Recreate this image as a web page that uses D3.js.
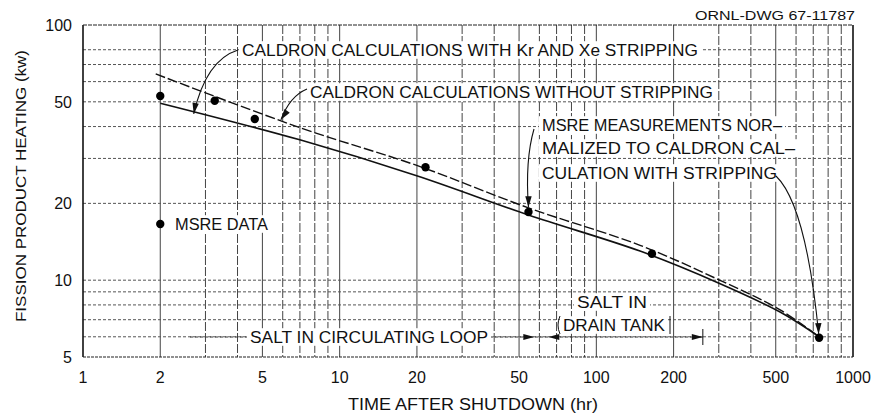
<!DOCTYPE html>
<html>
<head>
<meta charset="utf-8">
<script src="https://cdn.jsdelivr.net/npm/d3@7"></script>
<style>
  body { margin: 0; background: #fff; }
  svg text { font-family: "Liberation Sans", "DejaVu Sans", sans-serif; fill: #111; }
</style>
</head>
<body>
<div id="chart"></div>
<script>
var svgWidth = 879;
var svgHeight = 415;

// data
var timeTicks = [1, 2, 5, 10, 20, 50, 100, 200, 500, 1000];
var heatTicks = [5, 10, 20, 50, 100];
var timeGrid = [2, 3, 4, 5, 6, 7, 8, 9, 10, 20, 30, 40, 50, 60, 70, 80, 90, 100, 200, 300, 400, 500, 600, 700, 800, 900];
var heatGrid = [6, 7, 8, 9, 10, 20, 30, 40, 50, 60, 70, 80];

var msreTime = [2, 3.26, 4.67, 21.6, 54.4, 164.7, 738];
var msreHeat = [52.7, 50.5, 42.8, 27.7, 18.5, 12.7, 5.95];

var stripTime = [2, 7.05, 20.1, 54.4, 148, 296, 520, 738];
var stripHeat = [49.4, 35.4, 25.6, 18.0, 13.0, 9.8, 7.5, 6.0];

var noStripTime = [1.92, 7.05, 20.1, 54.4, 148, 296, 520, 738];
var noStripHeat = [64.3, 39.5, 28.1, 19.2, 13.7, 10.1, 7.65, 6.0];

var svg = d3.select("#chart")
  .append("svg")
  .attr("width", svgWidth)
  .attr("height", svgHeight);

// scales
var x = d3.scaleLog().domain([1, 1000]).range([83, 853]);
var y = d3.scaleLog().domain([5, 100]).range([357, 25]);

// grid
svg.append("g").selectAll("line")
  .data(timeGrid)
  .enter()
  .append("line")
  .attr("x1", d => x(d)).attr("x2", d => x(d))
  .attr("y1", y(100)).attr("y2", y(5))
  .attr("stroke", "#444")
  .attr("stroke-width", 1)
  .attr("stroke-dasharray", d => (String(d)[0] === "1" || String(d)[0] === "2" || String(d)[0] === "5") ? null : "9,2");

svg.append("g").selectAll("line")
  .data(heatGrid)
  .enter()
  .append("line")
  .attr("x1", x(1)).attr("x2", x(1000))
  .attr("y1", d => y(d)).attr("y2", d => y(d))
  .attr("stroke", "#555")
  .attr("stroke-width", 1)
  .attr("stroke-dasharray", "3,2");

// frame
svg.append("line").attr("x1", x(1)).attr("x2", x(1)).attr("y1", y(100)).attr("y2", y(5))
  .attr("stroke", "#111").attr("stroke-width", 1.6);
svg.append("line").attr("x1", x(1000)).attr("x2", x(1000)).attr("y1", y(100)).attr("y2", y(5))
  .attr("stroke", "#111").attr("stroke-width", 1.6);
svg.append("line").attr("x1", x(1)).attr("x2", x(1000)).attr("y1", y(100)).attr("y2", y(100))
  .attr("stroke", "#222").attr("stroke-width", 1.2).attr("stroke-dasharray", "4,1");
svg.append("line").attr("x1", x(1)).attr("x2", x(1000)).attr("y1", y(5)).attr("y2", y(5))
  .attr("stroke", "#222").attr("stroke-width", 1.2).attr("stroke-dasharray", "3,1");

// tick labels
svg.append("g").selectAll("text")
  .data(timeTicks)
  .enter()
  .append("text")
  .attr("x", d => x(d))
  .attr("y", 383)
  .attr("text-anchor", "middle")
  .attr("font-size", 16)
  .text(d => d);

svg.append("g").selectAll("text")
  .data(heatTicks)
  .enter()
  .append("text")
  .attr("x", 72)
  .attr("y", d => y(d) + 6)
  .attr("text-anchor", "end")
  .attr("font-size", 16)
  .text(d => d);

// axis titles
svg.append("text")
  .attr("x", 473)
  .attr("y", 410)
  .attr("text-anchor", "middle")
  .attr("font-size", 16)
  .attr("textLength", 250)
  .attr("lengthAdjust", "spacingAndGlyphs")
  .text("TIME AFTER SHUTDOWN (hr)");

svg.append("text")
  .attr("transform", "translate(26,186) rotate(-90)")
  .attr("text-anchor", "middle")
  .attr("font-size", 15)
  .attr("textLength", 272)
  .attr("lengthAdjust", "spacingAndGlyphs")
  .text("FISSION PRODUCT HEATING (kw)");

svg.append("text")
  .attr("x", 695)
  .attr("y", 20)
  .attr("font-size", 13)
  .attr("textLength", 160)
  .attr("lengthAdjust", "spacingAndGlyphs")
  .text("ORNL-DWG 67-11787");

// label with white patch behind it
function label(str, x0, yc, w, size) {
  var g = svg.append("g");
  var fs = size || 16;
  g.append("rect")
    .attr("x", x0 - 3).attr("y", yc - fs * 0.55)
    .attr("width", w + 6).attr("height", fs * 1.1)
    .attr("fill", "#fff");
  g.append("text")
    .attr("x", x0)
    .attr("y", yc + fs * 0.36)
    .attr("font-size", fs)
    .attr("textLength", w)
    .attr("lengthAdjust", "spacingAndGlyphs")
    .text(str);
}

// range arrows along the bottom
function arrowHead(tipX, tipY, dir) {
  svg.append("path")
    .attr("d", `M${tipX},${tipY} l${-dir * 11},-3 l0,6 Z`)
    .attr("fill", "#111");
}

svg.append("line")
  .attr("x1", 190).attr("x2", 250).attr("y1", 337).attr("y2", 337)
  .attr("stroke", "#333").attr("stroke-dasharray", "3,2");
svg.append("line")
  .attr("x1", 490).attr("x2", x(65)).attr("y1", 337).attr("y2", 337)
  .attr("stroke", "#333").attr("stroke-dasharray", "3,2");
arrowHead(x(65) - 14, 337, 1);
arrowHead(x(65), 337, -1);
svg.append("line")
  .attr("x1", 560).attr("x2", x(260)).attr("y1", 337).attr("y2", 337)
  .attr("stroke", "#333").attr("stroke-dasharray", "3,2");
arrowHead(x(260), 337, 1);
svg.append("line")
  .attr("x1", x(260)).attr("x2", x(260)).attr("y1", 329).attr("y2", 345)
  .attr("stroke", "#111");

// curves
var line = d3.line()
  .x(d => x(d[0]))
  .y(d => y(d[1]))
  .curve(d3.curveCatmullRom.alpha(0.5));

svg.append("path")
  .datum(d3.zip(noStripTime, noStripHeat))
  .attr("d", line)
  .attr("fill", "none")
  .attr("stroke", "#111")
  .attr("stroke-width", 1.4)
  .attr("stroke-dasharray", "10,3");

svg.append("path")
  .datum(d3.zip(stripTime, stripHeat))
  .attr("d", line)
  .attr("fill", "none")
  .attr("stroke", "#111")
  .attr("stroke-width", 1.6);

// MSRE points
svg.append("g").selectAll("circle")
  .data(d3.zip(msreTime, msreHeat))
  .enter()
  .append("circle")
  .attr("cx", d => x(d[0]))
  .attr("cy", d => y(d[1]))
  .attr("r", 4.2)
  .attr("fill", "#000");

// legend point
svg.append("circle")
  .attr("cx", x(2)).attr("cy", y(16.6))
  .attr("r", 4.2).attr("fill", "#000");

// text labels
label("CALDRON CALCULATIONS WITH Kr AND Xe STRIPPING", 242, 50, 456);
label("CALDRON CALCULATIONS WITHOUT STRIPPING", 310, 92, 403);
label("MSRE MEASUREMENTS NOR\u2013", 542, 125, 240);
label("MALIZED TO CALDRON CAL\u2013", 542, 148, 253);
label("CULATION WITH STRIPPING", 542, 173, 235);
label("MSRE DATA", 175, 224, 93);
label("SALT IN CIRCULATING LOOP", 250, 337, 238);
label("SALT IN", 577, 302, 70);
label("DRAIN TANK", 563, 325, 102);

// bracket left of DRAIN TANK
svg.append("path")
  .attr("d", "M560,316 Q556,325 560,334")
  .attr("fill", "none").attr("stroke", "#111");
svg.append("line")
  .attr("x1", 670).attr("x2", 670).attr("y1", 316).attr("y2", 334)
  .attr("stroke", "#111");

// leader arrows
function leader(d, tipX, tipY, ang) {
  svg.append("path")
    .attr("d", d)
    .attr("fill", "none")
    .attr("stroke", "#111")
    .attr("stroke-width", 1.1);
  svg.append("path")
    .attr("d", "M0,0 L-11,-3.2 L-11,3.2 Z")
    .attr("transform", `translate(${tipX},${tipY}) rotate(${ang})`)
    .attr("fill", "#111");
}

var t1 = [x(2.7), y(44.8)];
leader(`M238,50 Q206,60 ${t1[0]},${t1[1]}`, t1[0], t1[1], 100);

var t2 = [x(5.9), y(42.5)];
leader(`M307,89 Q290,96 ${t2[0]},${t2[1]}`, t2[0], t2[1], 125);

var t3 = [x(54.4), y(19.3)];
leader(`M534,129 Q525,160 ${t3[0]},${t3[1]}`, t3[0], t3[1], 90);

var t4 = [x(735), y(6.15)];
leader(`M776,176 Q806,205 ${t4[0]},${t4[1]}`, t4[0], t4[1], 88);
</script>
</body>
</html>
